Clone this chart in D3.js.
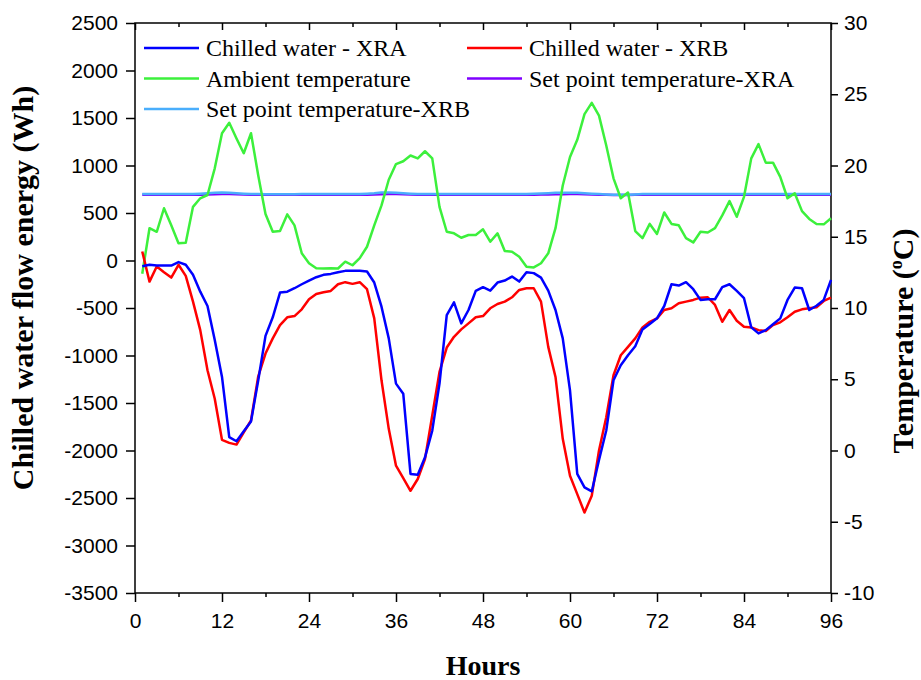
<!DOCTYPE html>
<html>
<head>
<meta charset="utf-8">
<script src="https://cdn.jsdelivr.net/npm/d3@7"></script>
<style>
  body { margin: 0; background: #fff; }
  .tick text { font-family: "Liberation Sans", Arial, sans-serif; font-size: 21px; fill: #000; }
  .domain { display: none; }
  .tick line { stroke: #000; stroke-width: 1.5; }
</style>
</head>
<body>
<script>
// hours 1..96
const hours = d3.range(1, 97);

const chilledXRA = [
  -60, -45, -53, -53, -53, -17, -45, -151, -328, -479, -838, -1226,
  -1860, -1903, -1797, -1694, -1261, -793, -598, -338, -328, -292, -250, -211,
  -176, -151, -141, -123, -109, -109, -108, -116, -232, -486, -820, -1296,
  -1402, -2247, -2255, -2072, -1790, -1296, -574, -440, -662, -521, -320, -281,
  -317, -232, -211, -169, -222, -123, -133, -180, -317, -521, -820, -1367,
  -2247, -2389, -2431, -2100, -1790, -1261, -1102, -997, -902, -725, -669, -609,
  -479, -250, -264, -228, -302, -415, -408, -408, -281, -250, -320, -397,
  -704, -767, -733, -672, -609, -415, -285, -292, -521, -476, -415, -204
];

const chilledXRB = [
  95, -222, -63, -123, -180, -45, -162, -433, -733, -1155, -1455, -1888,
  -1920, -1938, -1808, -1684, -1219, -979, -820, -680, -598, -585, -514, -408,
  -352, -334, -320, -250, -228, -246, -228, -302, -609, -1261, -1772, -2160,
  -2290, -2424, -2300, -2089, -1631, -1173, -916, -803, -725, -662, -598, -585,
  -503, -458, -433, -387, -310, -292, -292, -433, -909, -1226, -1877, -2265,
  -2459, -2653, -2477, -2000, -1650, -1208, -997, -909, -820, -704, -645, -609,
  -521, -503, -450, -433, -415, -391, -387, -468, -645, -521, -634, -698,
  -704, -733, -743, -680, -651, -598, -539, -514, -503, -493, -426, -391
];

const ambientTemp = [
  12.4, 15.6, 15.35, 17.0, 15.8, 14.54, 14.58, 17.1, 17.7, 17.93, 19.8, 22.26,
  23.0, 21.9, 20.86, 22.26, 19.3, 16.6, 15.35, 15.4, 16.57, 15.8, 13.84, 13.14,
  12.79, 12.77, 12.79, 12.77, 13.25, 13.0, 13.5, 14.3, 15.8, 17.2, 19.0, 20.1,
  20.3, 20.7, 20.5, 21.0, 20.5, 17.1, 15.35, 15.24, 14.93, 15.12, 15.13, 15.52,
  14.65, 15.24, 14.0, 13.95, 13.6, 12.9, 12.85, 13.14, 13.84, 15.6, 18.6, 20.6,
  21.8, 23.6, 24.4, 23.5, 21.4, 19.1, 17.7, 18.1, 15.4, 14.9, 15.9, 15.2,
  16.7, 15.9, 15.8, 14.9, 14.6, 15.35, 15.3, 15.6, 16.5, 17.5, 16.4, 17.8,
  20.5, 21.5, 20.2, 20.2, 19.2, 17.7, 18.05, 16.8, 16.25, 15.9, 15.87, 16.3
];

const setpointXRA = [
  17.95, 17.95, 17.95, 17.95, 17.95, 17.95, 17.95, 17.95, 17.95, 17.97, 17.98, 18.0,
  18.0, 17.98, 17.96, 17.95, 17.95, 17.94, 17.94, 17.94, 17.94, 17.94, 17.95, 17.95,
  17.95, 17.95, 17.95, 17.95, 17.95, 17.95, 17.95, 17.95, 17.97, 17.99, 18.0, 18.0,
  17.98, 17.96, 17.95, 17.95, 17.95, 17.95, 17.95, 17.95, 17.95, 17.95, 17.95, 17.95,
  17.95, 17.95, 17.95, 17.95, 17.95, 17.95, 17.95, 17.96, 17.97, 17.98, 17.99, 18.0,
  18.0, 17.99, 17.97, 17.95, 17.94, 17.93, 17.93, 17.93, 17.94, 17.95, 17.95, 17.95,
  17.95, 17.95, 17.95, 17.95, 17.95, 17.95, 17.95, 17.95, 17.95, 17.95, 17.95, 17.95,
  17.95, 17.95, 17.95, 17.95, 17.95, 17.95, 17.95, 17.95, 17.95, 17.95, 17.95, 17.95
];

const setpointXRB = [
  18.0, 18.0, 18.0, 18.0, 18.0, 18.0, 18.0, 18.0, 18.02, 18.05, 18.08, 18.1,
  18.08, 18.05, 18.02, 18.0, 18.0, 17.98, 17.98, 17.98, 17.98, 17.98, 18.0, 18.0,
  18.0, 18.0, 18.0, 18.0, 18.0, 18.0, 18.0, 18.02, 18.05, 18.1, 18.1, 18.08,
  18.05, 18.02, 18.0, 18.0, 18.0, 18.0, 18.0, 18.0, 18.0, 18.0, 18.0, 18.0,
  18.0, 18.0, 18.0, 18.0, 18.0, 18.0, 18.02, 18.04, 18.06, 18.08, 18.08, 18.08,
  18.08, 18.05, 18.02, 18.0, 17.97, 17.95, 17.95, 17.95, 17.97, 18.0, 18.0, 18.0,
  18.0, 18.0, 18.0, 18.0, 18.0, 18.0, 18.0, 18.0, 18.0, 18.0, 18.0, 18.0,
  18.0, 18.0, 18.0, 18.0, 18.0, 18.0, 18.0, 18.0, 18.0, 18.0, 18.0, 18.0
];

const energyTicks = d3.range(-3500, 2501, 500);
const tempTicks = d3.range(-10, 31, 5);
const hourTicks = d3.range(0, 97, 12);
const hourMinor = d3.range(6, 96, 12);

const W = 921, H = 680;
const margin = { top: 23, right: 90, bottom: 87, left: 135 };
const width = W - margin.left - margin.right;
const height = H - margin.top - margin.bottom;

const svg = d3.select('body').append('svg')
  .attr('width', W).attr('height', H);
const g = svg.append('g').attr('transform', `translate(${margin.left},${margin.top})`);

const x = d3.scaleLinear().domain([0, 96]).range([0, width]);
const yE = d3.scaleLinear().domain([-3500, 2500]).range([height, 0]);
const yT = d3.scaleLinear().domain([-10, 30]).range([height, 0]);

const plain = d => String(d);

// axes
g.append('g').attr('transform', `translate(0,${height})`)
  .call(d3.axisBottom(x).tickValues(hourTicks).tickSize(9).tickPadding(11).tickFormat(plain).tickSizeOuter(0));
g.append('g').attr('transform', `translate(0,${height})`)
  .call(d3.axisBottom(x).tickValues(hourMinor).tickSize(4).tickFormat('').tickSizeOuter(0));
g.append('g')
  .call(d3.axisTop(x).tickValues(hourTicks).tickSize(-7).tickFormat('').tickSizeOuter(0));
g.append('g')
  .call(d3.axisTop(x).tickValues(hourMinor).tickSize(-4).tickFormat('').tickSizeOuter(0));
g.append('g')
  .call(d3.axisLeft(yE).tickValues(energyTicks).tickSize(9).tickPadding(8).tickFormat(plain).tickSizeOuter(0));
g.append('g').attr('transform', `translate(${width},0)`)
  .call(d3.axisRight(yT).tickValues(tempTicks).tickSize(7).tickPadding(6).tickFormat(plain).tickSizeOuter(0));

// frame
g.append('rect').attr('width', width).attr('height', height)
  .attr('fill', 'none').attr('stroke', '#000').attr('stroke-width', 1.5);

const series = [
  { name: 'Set point temperature-XRA', values: setpointXRA, y: yT, color: '#7f00ff' },
  { name: 'Set point temperature-XRB', values: setpointXRB, y: yT, color: '#4aaefc' },
  { name: 'Ambient temperature', values: ambientTemp, y: yT, color: '#3cf03c' },
  { name: 'Chilled water - XRB', values: chilledXRB, y: yE, color: '#ff0000' },
  { name: 'Chilled water - XRA', values: chilledXRA, y: yE, color: '#0000ff' }
];

series.forEach(s => {
  const line = d3.line().x((d, i) => x(hours[i])).y(d => s.y(d));
  g.append('path').datum(s.values)
    .attr('fill', 'none').attr('stroke', s.color).attr('stroke-width', 2.5)
    .attr('stroke-linejoin', 'round').attr('d', line);
});

// legend
const legendItems = [
  { name: 'Chilled water - XRA', color: '#0000ff', col: 0, row: 0 },
  { name: 'Chilled water - XRB', color: '#ff0000', col: 1, row: 0 },
  { name: 'Ambient temperature', color: '#3cf03c', col: 0, row: 1 },
  { name: 'Set point temperature-XRA', color: '#7f00ff', col: 1, row: 1 },
  { name: 'Set point temperature-XRB', color: '#4aaefc', col: 0, row: 2 }
];
const legend = svg.append('g');
legendItems.forEach(d => {
  const lx = d.col === 0 ? 144 : 467;
  const ly = 48 + d.row * 30.5;
  legend.append('line').attr('x1', lx).attr('x2', lx + 55).attr('y1', ly).attr('y2', ly)
    .attr('stroke', d.color).attr('stroke-width', 2.5);
  legend.append('text').attr('x', lx + 62).attr('y', ly + 8)
    .style('font-family', '"Liberation Serif", "Times New Roman", serif')
    .style('font-size', '24px').text(d.name);
});

// axis titles
svg.append('text')
  .attr('transform', 'translate(33,288) rotate(-90)')
  .attr('text-anchor', 'middle')
  .style('font-family', '"Liberation Serif", "Times New Roman", serif')
  .style('font-weight', 'bold').style('font-size', '30px')
  .text('Chilled water flow energy (Wh)');

const rt = svg.append('text')
  .attr('transform', 'translate(913,341) rotate(-90)')
  .attr('text-anchor', 'middle')
  .style('font-family', '"Liberation Serif", "Times New Roman", serif')
  .style('font-weight', 'bold').style('font-size', '30px');
rt.append('tspan').text('Temperature (');
rt.append('tspan').attr('dy', -11).style('font-size', '18px').text('o');
rt.append('tspan').attr('dy', 11).text('C)');

svg.append('text')
  .attr('x', margin.left + width / 2).attr('y', 675)
  .attr('text-anchor', 'middle')
  .style('font-family', '"Liberation Serif", "Times New Roman", serif')
  .style('font-weight', 'bold').style('font-size', '28px')
  .text('Hours');
</script>
</body>
</html>
